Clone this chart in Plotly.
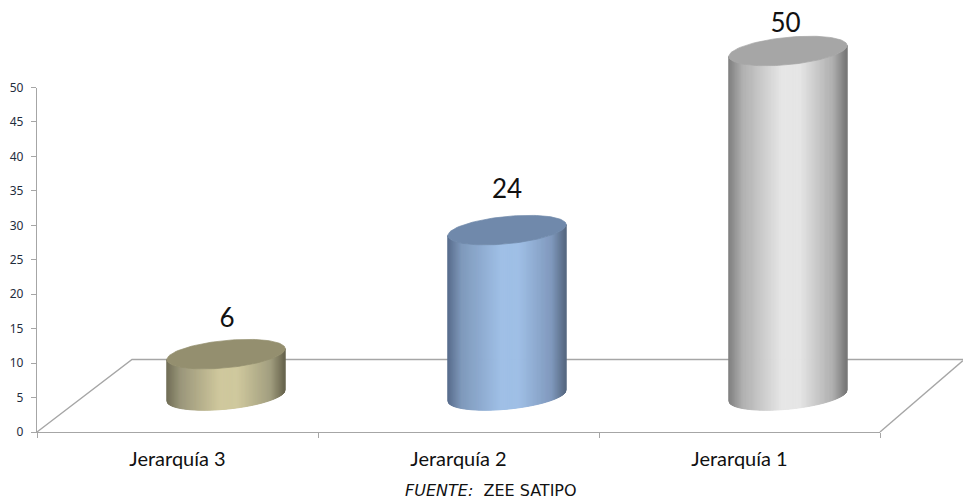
import numpy as np
import plotly.graph_objects as go

categories = ["Jerarquía 3", "Jerarquía 2", "Jerarquía 1"]
values = [6, 24, 50]
y_ticks = [0, 5, 10, 15, 20, 25, 30, 35, 40, 45, 50]
label_lift = [4.85, 5.55, 3.75]
label_shift = [0.004, 0, -0.009]

top_colors = ["#948f6f", "#7089ab", "#a6a6a6"]
side_stops = [
    [(0.0, "#6f6c54"), (0.12, "#9a967a"), (0.45, "#cfc89d"), (0.6, "#cfc89d"), (0.88, "#a29e7f"), (1.0, "#65624c")],
    [(0.0, "#55698a"), (0.12, "#7f99bb"), (0.45, "#9fbfe6"), (0.6, "#9fbfe6"), (0.88, "#8099bd"), (1.0, "#54667f")],
    [(0.0, "#7d7d7d"), (0.12, "#b0b0b0"), (0.45, "#e6e6e6"), (0.6, "#e6e6e6"), (0.88, "#b0b0b0"), (1.0, "#757575")],
]

W, H = 963, 501
X0, X3 = 37, 880
Y0, Y50 = 432, 87.5
slot = (X3 - X0) / 3
unit = (Y0 - Y50) / 50

OFFSET_X = 48.5 / slot
HALF_W = 59.2 / slot
BASE = 5.3
TILT = 5.5 / unit
MINOR = 13.7 / unit
FLOOR_X = 95 / slot
FLOOR_Y = 72.5 / unit


def hex2rgb(c):
    return np.array([int(c[i:i + 2], 16) for i in (1, 3, 5)], dtype=float)


def ramp(stops, f):
    pos = [s[0] for s in stops]
    cols = np.array([hex2rgb(s[1]) for s in stops])
    rgb = [np.interp(f, pos, cols[:, k]) for k in range(3)]
    return "rgb(%d,%d,%d)" % tuple(int(round(v)) for v in rgb)


def front_edge(u):
    # lower edge of an ellipse, u in [-1, 1] across the width, relative to centre
    return TILT * u - MINOR * np.sqrt(np.clip(1 - u * u, 0, 1))


fig = go.Figure()
common = dict(xaxis="x2", yaxis="y2", hoverinfo="skip", showlegend=False)

# floor outline
floor_x = [0, FLOOR_X, (W - X0) / slot, None, 3, (W - X0) / slot]
floor_y = [0, FLOOR_Y, FLOOR_Y, None, 0, FLOOR_Y * 0.985]
fig.add_trace(go.Scatter(x=floor_x, y=floor_y, mode="lines",
                         line=dict(color="#a6a6a6", width=1.4), **common))

for i, v in enumerate(values):
    cx = i + 0.5 + OFFSET_X
    n = 120
    edges = np.linspace(-1, 1, n + 1)
    for k in range(n):
        u = np.linspace(edges[k], edges[k + 1], 3)
        bot = BASE + front_edge(u)
        top = BASE + v + front_edge(u)
        xs = np.concatenate([u, u[::-1], u[:1]]) * HALF_W + cx
        ys = np.concatenate([bot, top[::-1], bot[:1]])
        col = ramp(side_stops[i], (k + 0.5) / n)
        fig.add_trace(go.Scatter(x=xs, y=ys, mode="lines", fill="toself", fillcolor=col,
                                 line=dict(color=col, width=1), **common))
    t = np.linspace(0, 2 * np.pi, 121)
    fig.add_trace(go.Scatter(
        x=cx + HALF_W * np.cos(t),
        y=BASE + v + TILT * np.cos(t) + MINOR * np.sin(t),
        mode="lines", fill="toself", fillcolor=top_colors[i],
        line=dict(color=top_colors[i], width=0.7), **common))

fig.add_trace(go.Scatter(
    x=[i + 0.5 + OFFSET_X + label_shift[i] for i in range(3)],
    y=[BASE + v + label_lift[i] for i, v in enumerate(values)],
    mode="text", text=[str(v) for v in values], textposition="middle center",
    textfont=dict(family="Lato", size=26, color="#111111"), **common))

# a dummy trace so the labelled axes are drawn
fig.add_trace(go.Scatter(x=[0], y=[0], mode="markers", marker=dict(opacity=0),
                         hoverinfo="skip", showlegend=False))

fig.update_layout(
    width=W, height=H, autosize=False,
    margin=dict(l=0, r=0, t=0, b=0, autoexpand=False),
    paper_bgcolor="white", plot_bgcolor="rgba(0,0,0,0)", hovermode=False,
    xaxis=dict(domain=[X0 / W, X3 / W], range=[0, 3], showgrid=False, zeroline=False,
               showline=True, linecolor="#a6a6a6", linewidth=1.4,
               tickmode="array", tickvals=[0.5, 1.5, 2.5], ticktext=categories, ticks="",
               ticklabelstandoff=9,
               tickfont=dict(family="Lato", size=20, color="#111111"),
               minor=dict(tickmode="array", tickvals=[0, 1, 2, 3], ticks="outside", ticklen=5,
                          tickcolor="#a6a6a6", tickwidth=1, showgrid=False)),
    yaxis=dict(domain=[(H - Y0) / H, (H - Y50) / H], range=[0, 50], showgrid=False, zeroline=False,
               showline=True, linecolor="#a6a6a6", linewidth=1.4,
               tickmode="array", tickvals=y_ticks, ticks="outside", ticklen=5,
               tickcolor="#a6a6a6", tickwidth=1, ticklabelstandoff=5,
               tickfont=dict(family="Noto Sans", size=12, color="#1f2d3d")),
    xaxis2=dict(domain=[0, 1], range=[-X0 / slot, (W - X0) / slot], visible=False, anchor="y2"),
    yaxis2=dict(domain=[0, 1], range=[-(H - Y0) / unit, Y0 / unit], visible=False, anchor="x2"),
    annotations=[dict(x=491 / W, y=0, xref="paper", yref="paper", showarrow=False,
                      text="<i>FUENTE:</i>  ZEE SATIPO", xanchor="center", yanchor="bottom",
                      borderpad=0, font=dict(family="DejaVu Sans", size=16, color="#111111"))],
)

fig.write_html("out.html", config=dict(displayModeBar=False),
               post_script="document.body.style.margin='0';document.body.style.overflow='hidden';")
